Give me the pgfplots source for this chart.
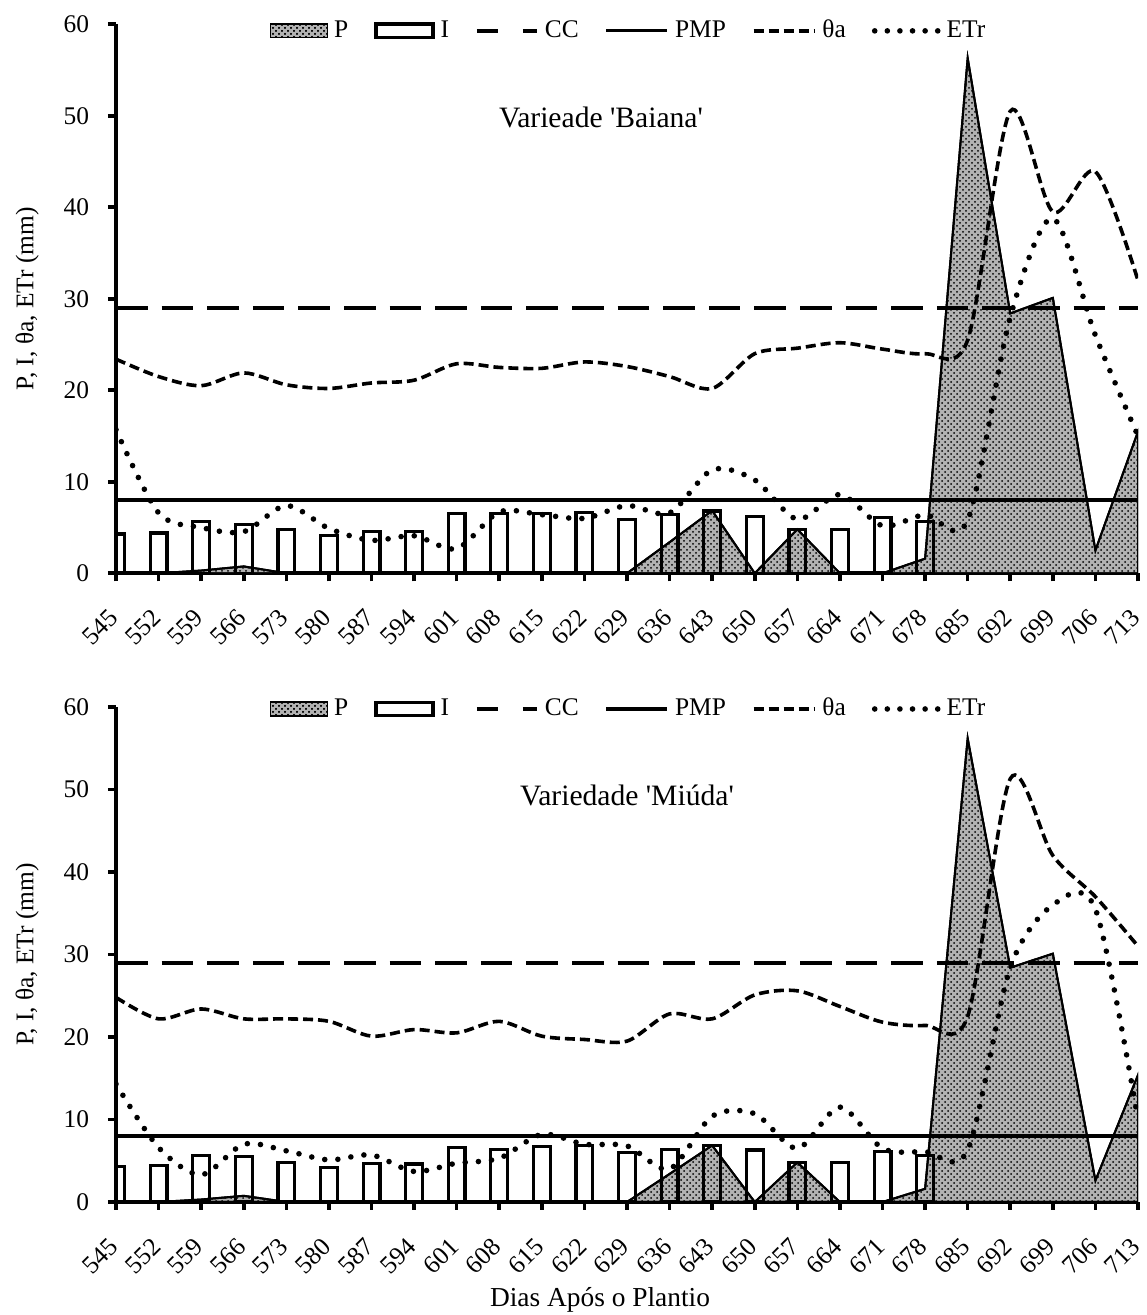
\documentclass[border=0pt]{standalone}
\usepackage{fontspec}
\setmainfont{Liberation Serif}
\usepackage{pgfplots}
\pgfplotsset{compat=1.18}
\usetikzlibrary{patterns}
\newcommand\ff{\fontsize{12.7pt}{15pt}\selectfont}
\newcommand\fft{\fontsize{14.8pt}{17pt}\selectfont}
\newcommand\ffx{\fontsize{13.7pt}{16pt}\selectfont}

\pgfplotsset{
  panel/.style={
    scale only axis, width=511pt,
    xmin=0, xmax=24, ymin=0, ymax=60,
    axis x line*=bottom, axis y line*=left,
    axis line style={line width=1.8pt},
    every tick/.style={black, line width=1.8pt},
    major tick length=4pt,
    tick align=outside,
    xtick={0,...,24},
    xticklabels={545,552,559,566,573,580,587,594,601,608,615,622,629,636,643,650,657,664,671,678,685,692,699,706,713},
    ytick={0,10,20,30,40,50,60},
    x tick label style={font=\ff, yshift=-13pt, xshift=2pt, rotate=45, anchor=east},
    y tick label style={font=\ff, xshift=-5pt},
    /pgf/number format/assume math mode=true,
    ylabel={P, I, θa, ETr (mm)},
    ylabel style={at={(axis description cs:-0.087,0.5)}, anchor=center, font=\ff},
    legend columns=6,
    legend style={draw=none, fill=none, font=\ff, anchor=center,
      /tikz/every even column/.append style={column sep=11pt},
      /tikz/every odd column/.append style={column sep=1pt},
      nodes={inner xsep=2pt, inner ysep=1pt}},
    clip=true,
  },
  parea/.style={draw=black, line width=1pt, fill=gray!60, postaction={pattern=crosshatch dots},
    legend image code/.code={\draw[black, line width=0.8pt, fill=gray!60, postaction={pattern=crosshatch dots}] (0pt,-3.4pt) rectangle (28.5pt,3.4pt);}},
  ibar/.style={ybar, bar width=8.4pt, draw=black, line width=1.6pt, fill=none,
    legend image code/.code={\draw[black, line width=1.6pt, fill=white] (0pt,-3.4pt) rectangle (28.5pt,3.4pt);}},
  cc/.style={black, line width=2pt, dash pattern=on 15.8pt off 7pt,
    legend image code/.code={\draw[black, line width=2pt, dash pattern=on 10.5pt off 12.5pt] (0pt,0pt) -- (30pt,0pt);}},
  pmp/.style={black, line width=1.6pt,
    legend image code/.code={\draw[black, line width=1.6pt] (0pt,0pt) -- (30.5pt,0pt);}},
  theta/.style={black, line width=1.8pt, dash pattern=on 5pt off 2.5pt, smooth, tension=0.5,
    legend image code/.code={\draw[black, line width=1.8pt, dash pattern=on 5pt off 2.5pt] (0pt,0pt) -- (30.5pt,0pt);}},
  etr/.style={black, line width=2.8pt, line cap=round, dash pattern=on 0pt off 6.6pt, smooth, tension=0.5,
    legend image code/.code={\draw[black, line width=2.8pt, line cap=round, dash pattern=on 0pt off 6.3pt] (0pt,0pt) -- (31.6pt,0pt);}},
}

\begin{document}
\ff
\begin{tikzpicture}
\useasboundingbox (0,0) rectangle (573pt,657.5pt);
% ---------------- top panel ----------------
\begin{axis}[panel, height=274.5pt, at={(58pt,370.85pt)}, anchor=south west,
  legend style={at={(axis description cs:0.5024,0.988)}}]
\addplot[parea] coordinates {(0,0) (1,0) (2,0.3) (3,0.75) (4,0) (5,0) (6,0) (7,0) (8,0) (9,0) (10,0) (11,0) (12,0) (13,3.4) (14,6.85) (15,0) (16,4.8) (17,0) (18,0) (19,1.6) (20,56.3) (21,28.4) (22,30.1) (23,2.5) (24,15.5)} \closedcycle;
\addplot[ibar] coordinates {(0,4.3) (1,4.4) (2,5.65) (3,5.3) (4,4.75) (5,4.1) (6,4.55) (7,4.55) (8,6.5) (9,6.5) (10,6.55) (11,6.65) (12,5.9) (13,6.4) (14,6.8) (15,6.2) (16,4.75) (17,4.75) (18,6.1) (19,5.65)};
\addplot[cc] coordinates {(0,29) (24,29)};
\addplot[pmp] coordinates {(0,8) (24,8)};
\addplot[theta] coordinates {(0,23.4) (1,21.5) (2,20.5) (3,21.9) (4,20.6) (5,20.2) (6,20.8) (7,21.1) (8,22.9) (9,22.5) (10,22.4) (11,23.1) (12,22.6) (13,21.5) (14,20.2) (15,24.0) (16,24.6) (17,25.2) (18,24.5) (19,24.0) (20,25.5) (21,50.5) (22,39.5) (23,43.9) (24,32.0)};
\addplot[etr] coordinates {(0,15.7) (1,6.6) (2,5.0) (3,4.55) (4,7.4) (5,4.9) (6,3.6) (7,4.1) (8,2.7) (9,6.7) (10,6.4) (11,6.0) (12,7.4) (13,6.6) (14,11.3) (15,10.2) (16,5.9) (17,8.6) (18,5.2) (19,6.4) (20,5.8) (21,28.0) (22,38.8) (23,26.0) (24,15.0)};
\legend{P,I,CC,PMP,θa,ETr}
\node[font=\fft] at (axis description cs:0.4746,0.831) {Varieade \textquotesingle Baiana\textquotesingle};
\end{axis}
% ---------------- bottom panel ----------------
\begin{axis}[panel, height=247.5pt, at={(58pt,56.5pt)}, anchor=south west,
  legend style={at={(axis description cs:0.5024,0.996)}},
  xlabel={Dias Após o Plantio},
  xlabel style={at={(axis description cs:0.4736,-0.198)}, anchor=center, font=\ffx}]
\addplot[parea] coordinates {(0,0) (1,0) (2,0.3) (3,0.75) (4,0) (5,0) (6,0) (7,0) (8,0) (9,0) (10,0) (11,0) (12,0) (13,3.4) (14,6.85) (15,0) (16,4.8) (17,0) (18,0) (19,1.6) (20,56.2) (21,28.4) (22,30.1) (23,2.6) (24,15.4)} \closedcycle;
\addplot[ibar] coordinates {(0,4.3) (1,4.4) (2,5.6) (3,5.5) (4,4.8) (5,4.2) (6,4.7) (7,4.6) (8,6.6) (9,6.4) (10,6.7) (11,6.85) (12,6.0) (13,6.4) (14,6.8) (15,6.3) (16,4.8) (17,4.8) (18,6.1) (19,5.6)};
\addplot[cc] coordinates {(0,29) (24,29)};
\addplot[pmp] coordinates {(0,8) (24,8)};
\addplot[theta] coordinates {(0,24.8) (1,22.2) (2,23.4) (3,22.2) (4,22.2) (5,21.9) (6,20.1) (7,20.9) (8,20.5) (9,21.9) (10,20.1) (11,19.7) (12,19.5) (13,22.8) (14,22.2) (15,25.1) (16,25.6) (17,23.7) (18,21.8) (19,21.4) (20,22.5) (21,51.3) (22,42.0) (23,37.0) (24,31.0)};
\addplot[etr] coordinates {(0,14.3) (1,6.6) (2,3.3) (3,7.0) (4,6.2) (5,5.1) (6,5.7) (7,3.7) (8,4.7) (9,5.3) (10,8.2) (11,7.0) (12,6.8) (13,4.0) (14,10.4) (15,10.7) (16,6.5) (17,11.5) (18,6.5) (19,6.1) (20,6.3) (21,28.4) (22,36.0) (23,35.5) (24,10.0)};
\legend{P,I,CC,PMP,θa,ETr}
\node[font=\fft] at (axis description cs:0.5,0.822) {Variedade \textquotesingle Miúda\textquotesingle};
\end{axis}
\end{tikzpicture}
\end{document}
